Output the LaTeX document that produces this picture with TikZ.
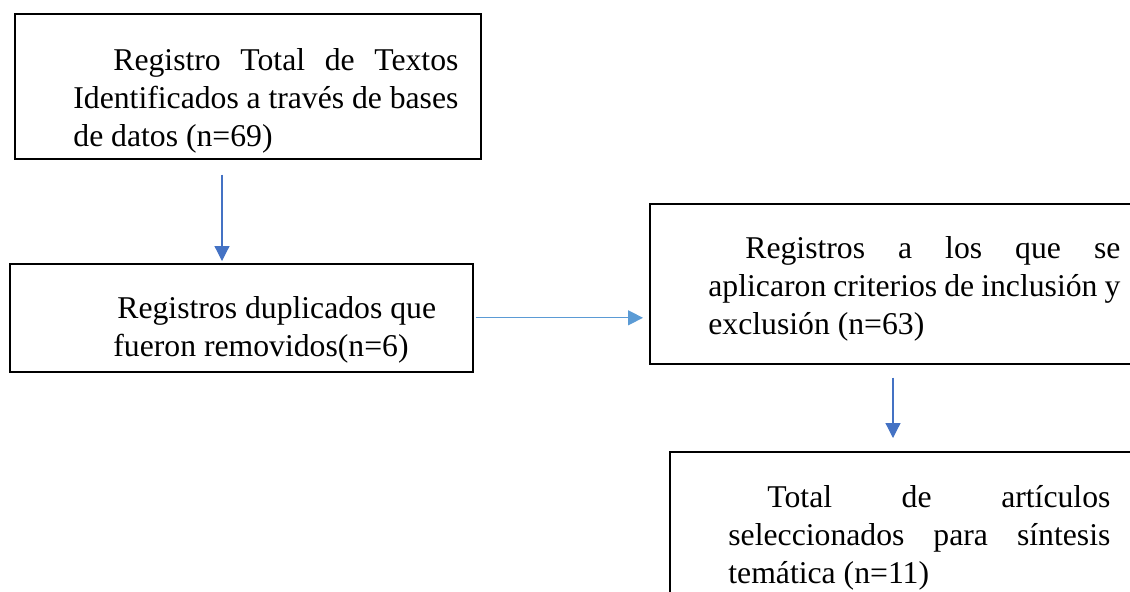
\documentclass[tikz,border=0pt]{standalone}
\usepackage{fontspec}
\setmainfont{Liberation Serif}
\usetikzlibrary{arrows.meta}

\definecolor{dkblue}{HTML}{4472C4}
\definecolor{ltblue}{HTML}{5B9BD5}

\begin{document}
\begin{tikzpicture}[x=0.5pt,y=-0.5pt,
  box/.style={draw,line width=0.8pt,inner sep=0pt,anchor=north west},
  txt/.style={inner sep=0pt,anchor=base west,align=justify,font=\fontsize{15.85pt}{19pt}\selectfont},
  flow/.style={line width=0.6pt,-{Triangle[length=7.5pt,width=7.5pt]}}]
\clip (0,0) rectangle (1130,591);

\coordinate (s1) at (222,0);
\coordinate (s3) at (893,0);

\node[box,minimum width=233pt,minimum height=72.5pt] (reg) at (14,13) {};
\node[box,minimum width=231.5pt,minimum height=54pt] (dup) at (9,263) {};
\node[box,minimum width=250pt,minimum height=80pt] (crit) at (649,203) {};
\node[box,minimum width=240pt,minimum height=75pt] (sel) at (669,451) {};

\node[txt,text width=192.5pt] (regt) at (73,70)
  {\hspace*{20pt}Registro Total de Textos\linebreak Identificados a través de bases\linebreak de datos (n=69)};
\node[txt,align=flush left,text width=190pt] (dupt) at (113,318)
  {\hspace*{2pt}Registros duplicados que\\fueron removidos(n=6)};
\node[txt,text width=206pt] (critt) at (708,258)
  {\hspace*{18.5pt}Registros a los que se\linebreak aplicaron criterios de inclusión y\linebreak exclusión (n=63)};
\node[txt,text width=191pt] (selt) at (728,507)
  {\hspace*{19.5pt}Total de artículos\linebreak seleccionados para síntesis\linebreak temática (n=11)};

%\draw[gray] (0,0) grid[step=50pt] (1130,591);
\draw[flow,dkblue,shorten <=7.5pt,shorten >=1pt] (reg.south -| s1) -- (dup.north -| s1);
\draw[flow,ltblue,shorten <=1pt,shorten >=3pt] (dup.east) -- (dup.east -| crit.west);
\draw[flow,dkblue,shorten <=6.5pt,shorten >=6.5pt] (crit.south -| s3) -- (sel.north -| s3);
\end{tikzpicture}
\end{document}
